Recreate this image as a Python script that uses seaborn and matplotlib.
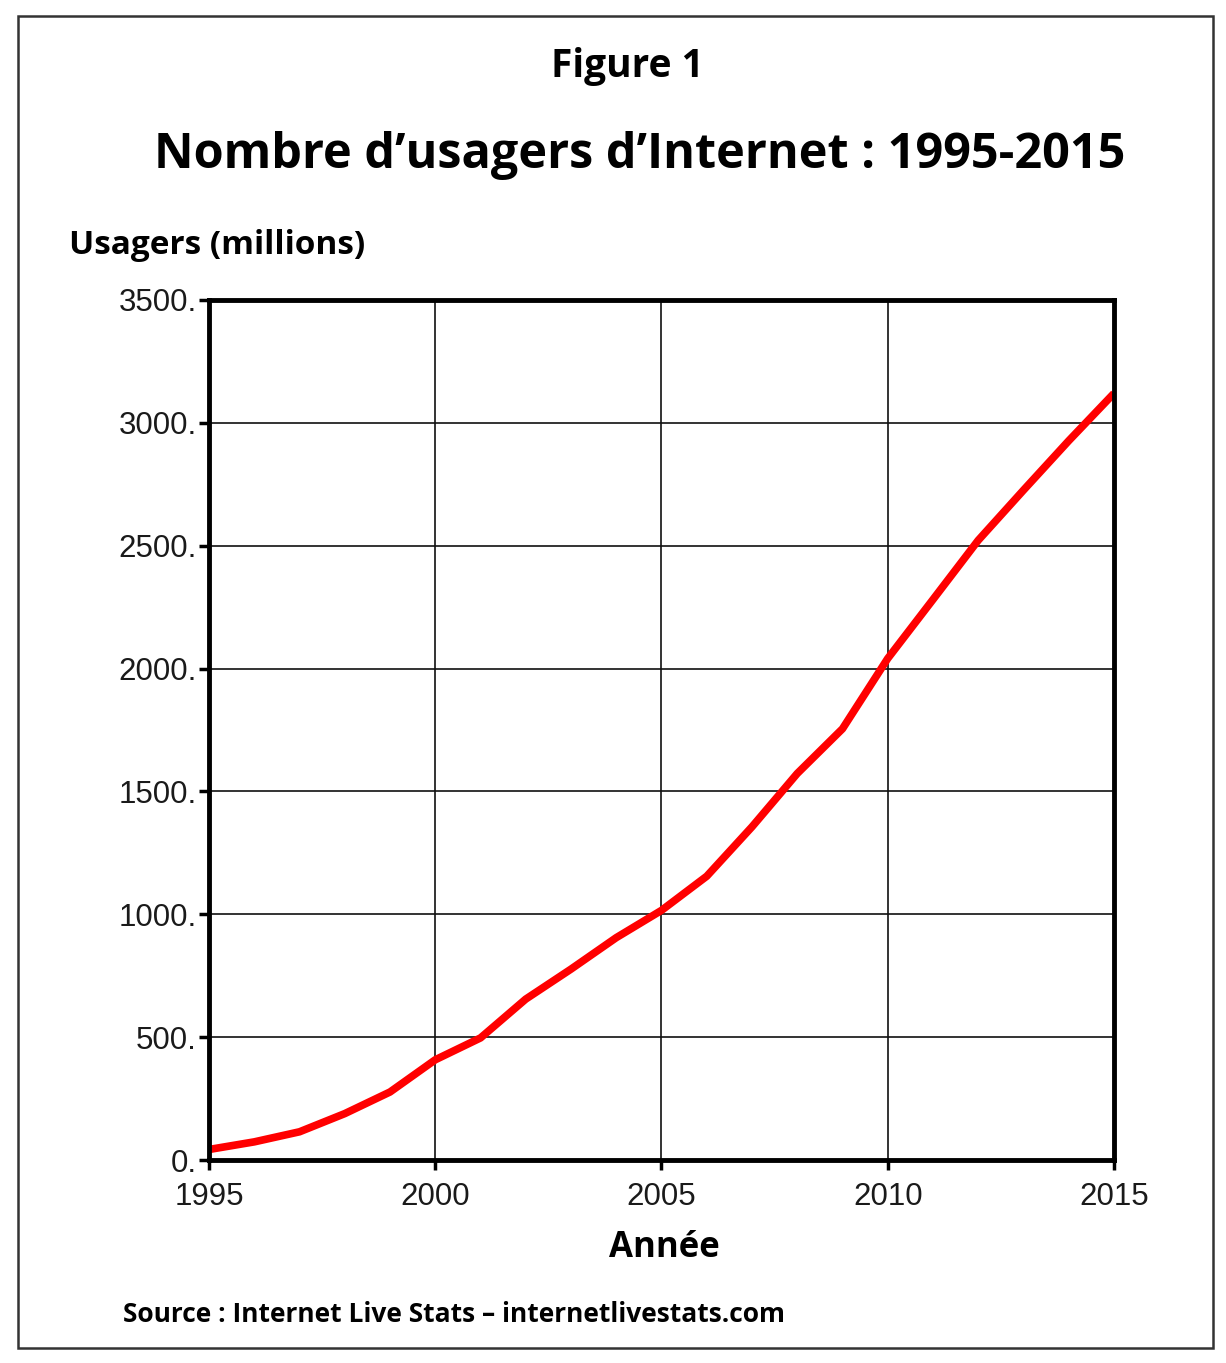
import numpy as np
import pandas as pd
import matplotlib.pyplot as plt
import matplotlib.patches as mpatches
import seaborn as sns

# Internet users (millions)
years = list(range(1995, 2016))
users = [43, 74, 115, 189, 277, 408, 497, 655, 777, 905, 1016,
         1155, 1356, 1573, 1755, 2041, 2281, 2522, 2726, 2927, 3120]
y_ticks = [0, 500, 1000, 1500, 2000, 2500, 3000, 3500]
x_ticks = [1995, 2000, 2005, 2010, 2015]

df = pd.DataFrame({'annee': years, 'usagers': users})

sns.set_style("white")
plt.rcParams['font.family'] = ['Liberation Sans', 'DejaVu Sans']

fig = plt.figure(figsize=(12.26, 13.63), dpi=100)
ax = fig.add_axes([0.1705, 0.1489, 0.7381, 0.631])

sns.lineplot(x='annee', y='usagers', data=df, ax=ax, color='#ff0000',
             linewidth=5.5, solid_capstyle='butt')

ax.set_xlim(1995, 2015)
ax.set_ylim(0, 3500)
ax.set_xticks(x_ticks)
ax.set_yticks(y_ticks)
ax.set_yticklabels([f"{v}." for v in y_ticks])
ax.grid(True, color='#111111', linewidth=1.2)
ax.set_axisbelow(True)
for s in ax.spines.values():
    s.set_visible(True)
    s.set_color('black')
    s.set_linewidth(3.5)
ax.tick_params(axis='both', direction='out', length=7, width=2.5, color='black',
               labelsize=22.5, labelcolor='#1a1a1a', bottom=True, left=True)
ax.tick_params(axis='y', pad=2)
ax.tick_params(axis='x', pad=9)
ax.set_xlabel('')
ax.set_ylabel('')

bold = dict(family=['Open Sans', 'DejaVu Sans'], fontweight='bold', color='black')
fig.text(0.512, 1 - 66 / 1363, 'Figure 1', ha='center', va='center', fontsize=28, **bold)
fig.text(0.522, 1 - 155 / 1363, 'Nombre d’usagers d’Internet : 1995-2015',
         ha='center', va='center', fontsize=35, **bold)
fig.text(69 / 1226, 1 - 245 / 1363, 'Usagers (millions)', ha='left', va='center',
         fontsize=24, **bold)
fig.text(664 / 1226, 1 - 1248 / 1363, 'Année', ha='center', va='center',
         fontsize=25, **bold)
fig.text(123 / 1226, 1 - 1314 / 1363, 'Source : Internet Live Stats – internetlivestats.com',
         ha='left', va='center', fontsize=19, **bold)

# frame around the whole figure
frame = mpatches.Rectangle((18 / 1226, 1 - 1348 / 1363), (1213 - 18) / 1226,
                           (1348 - 16) / 1363, transform=fig.transFigure,
                           fill=False, edgecolor='#333333', linewidth=1.8)
fig.patches.append(frame)

fig.savefig('out.png', dpi=100, facecolor='white')
